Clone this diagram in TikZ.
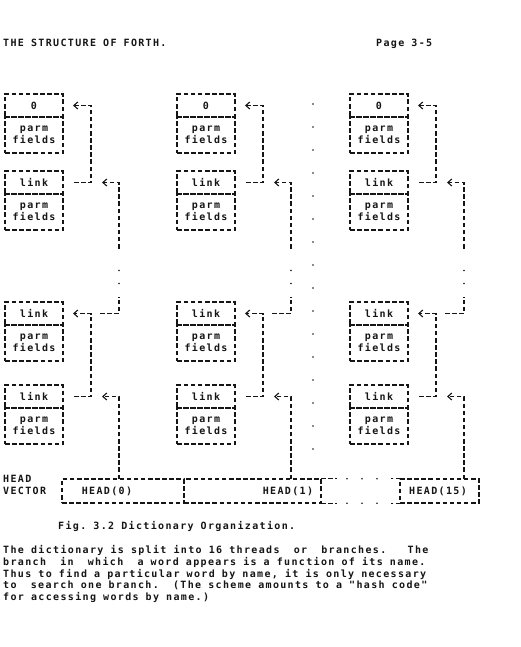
\documentclass[tikz,border=0pt]{standalone}
\usepackage{fontspec}
\usepackage{tikz}
\usetikzlibrary{
    arrows.meta,
    positioning,
    calc
}
\newfontfamily\dmfont{DejaVu Sans Mono}[LetterSpace=13.5]
\newcommand\dmtext{\dmfont\bfseries\frenchspacing\fontsize{10pt}{12pt}\selectfont\spaceskip=7.1pt plus 0pt minus 0pt\relax}
\definecolor{inkblack}{HTML}{151515}

\tikzset{
    prn/.style={font=\dmtext, text=inkblack, inner sep=0pt},
    rule/.style={draw=inkblack, line width=1.1pt, dash pattern=on 4.5pt off 2.6pt},
    field/.style={prn, rule, outer sep=0pt, minimum width=58pt, align=center},
    onefield/.style={field, minimum height=23pt},
    twofield/.style={field, minimum height=36pt},
    link/.style={rule, -{Straight Barb[length=4pt, width=7pt]}}
}

\begin{document}
\begin{tikzpicture}[x=1pt, y=-1pt]
    \useasboundingbox (0,0) rectangle (521,647);

    % Page header
    \node[prn, anchor=base west] (title) at (3,46.5) {THE STRUCTURE OF FORTH.};
    \node[prn, anchor=base west] (pageno) at (376,46.5) {Page 3-5};

    % Head vector
    \node[prn, anchor=base west] (headlbl) at (3,482.5) {HEAD};
    \node[prn, anchor=base west] (vectorlbl) at (3,494.5) {VECTOR};
    \node[field, minimum width=122pt, minimum height=24pt, anchor=west] (head0) at (62,491) {};
    \node[field, minimum width=137pt, minimum height=24pt, anchor=west] (head1) at (184,491) {};
    \node[inner sep=0pt, minimum width=79pt, minimum height=24pt, anchor=west] (headgap) at (321,491) {};
    \node[field, minimum width=79pt, minimum height=24pt, anchor=west] (head15) at (400,491) {};
    \node[prn, anchor=base] (head0txt) at (107,494.5) {HEAD(0)};
    \node[prn, anchor=base] (head1txt) at (288,494.5) {HEAD(1)};
    \node[prn, anchor=base] (head15txt) at (438,494.5) {HEAD(15)};
    \draw[rule] (headgap.north west) -- ++(16,0) (headgap.north east) -- ++(-9,0);
    \draw[rule] (headgap.south west) -- ++(16,0) (headgap.south east) -- ++(-9,0);
    \foreach \d in {26,41,56} {
        \fill[inkblack] ([xshift=\d pt]headgap.north west) circle (0.9pt);
        \fill[inkblack] ([xshift=\d pt]headgap.south west) circle (0.9pt);
    }

    % Threads
    \foreach \c/\x/\h in {A/34/head0, B/206/head1, C/379/head15} {
        \node[onefield] (top\c) at (\x,105.5) {0};
        \node[twofield, below=0pt of top\c] (parm1\c) {parm\\fields};
        \node[onefield, below=18pt of parm1\c] (link2\c) {link};
        \node[twofield, below=0pt of link2\c] (parm2\c) {parm\\fields};
        \node[onefield, below=72pt of parm2\c] (link3\c) {link};
        \node[twofield, below=0pt of link3\c] (parm3\c) {parm\\fields};
        \node[onefield, below=24pt of parm3\c] (link4\c) {link};
        \node[twofield, below=0pt of link4\c] (parm4\c) {parm\\fields};

        \coordinate (gapup\c) at ([xshift=56pt, yshift=-66pt]link2\c.east);
        \coordinate (gapdn\c) at ([xshift=56pt, yshift=17pt]link3\c.east);
        \coordinate (out\c) at ([xshift=56pt]link4\c.east);

        \draw[link, shorten <=11pt, shorten >=10pt] (link2\c.east) -- ++(28,0) |- (top\c.east);
        \draw[link, shorten >=39pt] (gapup\c) |- (link2\c.east);
        \draw[rule, shorten <=37pt] (link3\c.east) -- ++(56,0) -- (gapdn\c);
        \fill[inkblack] (gapdn\c) ++(0,-13) circle (0.9pt) ++(0,-13) circle (0.9pt);
        \draw[link, shorten <=11pt, shorten >=10pt] (link4\c.east) -- ++(28,0) |- (link3\c.east);
        \draw[link, shorten >=39pt] (\h.north -| out\c) -- (out\c) -- (link4\c.east);
    }

    % Branches between HEAD(1) and HEAD(15)
    \foreach \y in {104,127,...,449} {
        \fill[inkblack] (313,\y) circle (0.9pt);
    }

    % Caption and text
    \node[prn, anchor=base west] (caption) at (58,529.5) {Fig. 3.2 Dictionary Organization.};
    \node[prn, anchor=base west] (para1) at (3,553.5) {The dictionary is split into 16 threads\ \ or\ \ branches.\ \ \ The};
    \node[prn, anchor=base west] (para2) at (3,565.3) {branch\ \ in\ \ which\ \ a word appears is a function of its name.};
    \node[prn, anchor=base west] (para3) at (3,577.1) {Thus to find a particular word by name, it is only necessary};
    \node[prn, anchor=base west] (para4) at (3,588.9) {to\ \ search one branch.\ \ (The scheme amounts to a "hash code"};
    \node[prn, anchor=base west] (para5) at (3,600.7) {for accessing words by name.)};

\end{tikzpicture}
\end{document}
